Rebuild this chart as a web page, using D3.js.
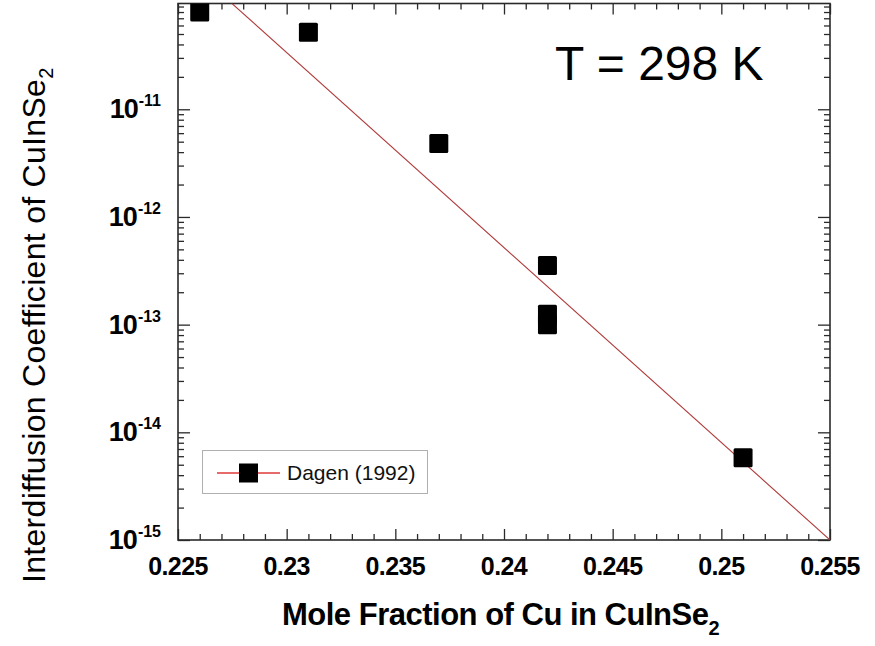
<!DOCTYPE html>
<html>
<head>
<meta charset="utf-8">
<script src="https://cdn.jsdelivr.net/npm/d3@7/dist/d3.min.js"></script>
<style>
  html, body { margin: 0; padding: 0; background: #fff; }
  svg { display: block; }
  text { font-family: Arial, "Liberation Sans", Helvetica, sans-serif; }
</style>
</head>
<body>
<script>
// Interdiffusion coefficient vs. Cu mole fraction at 298 K (Dagen 1992)
const moleFraction = [0.226, 0.231, 0.237, 0.242, 0.242, 0.242, 0.251];
const diffCoeff    = [8.0e-11, 5.2e-11, 4.8e-12, 3.55e-13, 1.25e-13, 1.0e-13, 5.8e-15];

// Fitted trend line (log-linear), drawn across the full x range
const fitX = [0.225, 0.255];
const fitY = [2.7e-10, 1e-15];

// Axis ticks
const xMajor = [0.225, 0.23, 0.235, 0.24, 0.245, 0.25, 0.255];
const xMajorLabels = ["0.225", "0.23", "0.235", "0.24", "0.245", "0.25", "0.255"];
const yDecades = [1e-15, 1e-14, 1e-13, 1e-12, 1e-11];
const yDecadeExp = ["-15", "-14", "-13", "-12", "-11"];

const W = 875, H = 646;
const plot = { left: 178, right: 830, top: 3.5, bottom: 540 };

const svg = d3.select("body").append("svg")
  .attr("width", W).attr("height", H);

svg.append("rect").attr("width", W).attr("height", H).attr("fill", "#fff");

const x = d3.scaleLinear().domain([0.225, 0.255]).range([plot.left, plot.right]);
const y = d3.scaleLog().domain([1e-15, 9.6e-11]).range([plot.bottom, plot.top]);

// minor ticks
const xMinor = d3.range(0, 31).map(i => 0.225 + i * 0.001).filter((v, i) => i % 5 !== 0);
const yMinor = [];
yDecades.forEach(d => {
  for (let k = 2; k <= 9; k++) { const v = d * k; if (v <= y.domain()[1]) yMinor.push(v); }
});

const axisColor = "#2a2a2a";
function styleAxis(g) {
  g.select(".domain").remove();
  g.selectAll(".tick line").attr("stroke", axisColor).attr("stroke-width", 1.3);
}

// bottom
svg.append("g").attr("transform", `translate(0,${plot.bottom})`)
  .call(d3.axisBottom(x).tickValues(xMajor).tickSize(-11).tickFormat(""))
  .call(styleAxis);
svg.append("g").attr("transform", `translate(0,${plot.bottom})`)
  .call(d3.axisBottom(x).tickValues(xMinor).tickSize(-6).tickFormat(""))
  .call(styleAxis);
// top
svg.append("g").attr("transform", `translate(0,${plot.top})`)
  .call(d3.axisTop(x).tickValues(xMajor).tickSize(-11).tickFormat(""))
  .call(styleAxis);
svg.append("g").attr("transform", `translate(0,${plot.top})`)
  .call(d3.axisTop(x).tickValues(xMinor).tickSize(-6).tickFormat(""))
  .call(styleAxis);
// left
svg.append("g").attr("transform", `translate(${plot.left},0)`)
  .call(d3.axisLeft(y).tickValues(yDecades).tickSize(-12).tickFormat(""))
  .call(styleAxis);
svg.append("g").attr("transform", `translate(${plot.left},0)`)
  .call(d3.axisLeft(y).tickValues(yMinor).tickSize(-6).tickFormat(""))
  .call(styleAxis);
// right
svg.append("g").attr("transform", `translate(${plot.right},0)`)
  .call(d3.axisRight(y).tickValues(yDecades).tickSize(-12).tickFormat(""))
  .call(styleAxis);
svg.append("g").attr("transform", `translate(${plot.right},0)`)
  .call(d3.axisRight(y).tickValues(yMinor).tickSize(-6).tickFormat(""))
  .call(styleAxis);

// frame
svg.append("rect")
  .attr("x", plot.left).attr("y", plot.top)
  .attr("width", plot.right - plot.left).attr("height", plot.bottom - plot.top)
  .attr("fill", "none").attr("stroke", axisColor).attr("stroke-width", 1.6);

// x tick labels
svg.append("g").selectAll("text").data(xMajor).join("text")
  .attr("x", d => x(d)).attr("y", 575)
  .attr("text-anchor", "middle")
  .attr("font-size", 25).attr("font-weight", "bold")
  .attr("letter-spacing", -0.6)
  .text((d, i) => xMajorLabels[i]);

// y tick labels: 10 with superscript exponent
const yl = svg.append("g").selectAll("text").data(yDecades).join("text")
  .attr("x", 161).attr("y", d => y(d) + 9)
  .attr("text-anchor", "end")
  .attr("font-weight", "bold");
yl.append("tspan").attr("font-size", 27).attr("letter-spacing", -1).text("10");
yl.append("tspan").attr("font-size", 16).attr("dy", -12).attr("dx", 1)
  .text((d, i) => yDecadeExp[i]);

// clip for plot area
svg.append("clipPath").attr("id", "plotclip").append("rect")
  .attr("x", plot.left).attr("y", plot.top)
  .attr("width", plot.right - plot.left).attr("height", plot.bottom - plot.top);

// fit line
svg.append("path")
  .attr("clip-path", "url(#plotclip)")
  .datum(fitX.map((v, i) => [v, fitY[i]]))
  .attr("d", d3.line().x(d => x(d[0])).y(d => y(d[1])))
  .attr("fill", "none").attr("stroke", "#b03a3a").attr("stroke-width", 1.1);

// data squares
const sq = 19;
svg.append("g").attr("clip-path", "url(#plotclip)")
  .selectAll("rect").data(moleFraction.map((v, i) => [v, diffCoeff[i]])).join("rect")
  .attr("x", d => x(d[0]) - sq / 2).attr("y", d => y(d[1]) - sq / 2)
  .attr("width", sq).attr("height", sq).attr("rx", 1.5)
  .attr("fill", "#000");

// temperature annotation
svg.append("text").attr("x", 555).attr("y", 80)
  .attr("font-size", 48).attr("fill", "#000").text("T = 298 K");

// legend
const lg = svg.append("g");
lg.append("rect").attr("x", 202.5).attr("y", 450.5).attr("width", 225).attr("height", 43)
  .attr("fill", "#fff").attr("stroke", "#b0b0b0").attr("stroke-width", 1);
lg.append("line").attr("x1", 217).attr("x2", 280).attr("y1", 473).attr("y2", 473)
  .attr("stroke", "#e03a3a").attr("stroke-width", 1.3);
lg.append("rect").attr("x", 239).attr("y", 463.5).attr("width", 19).attr("height", 19)
  .attr("fill", "#000");
lg.append("text").attr("x", 287).attr("y", 480)
  .attr("font-size", 21).attr("fill", "#111").text("Dagen (1992)");

// x axis title
const xt = svg.append("text").attr("x", 282).attr("y", 625)
  .attr("font-size", 31).attr("font-weight", "bold").attr("letter-spacing", -0.5);
xt.append("tspan").text("Mole Fraction of Cu in CuInSe");
xt.append("tspan").attr("font-size", 20).attr("dy", 10).text("2");

// y axis title
const ytTitle = svg.append("text")
  .attr("transform", "translate(45,583) rotate(-90)")
  .attr("font-size", 32).attr("font-weight", "normal").attr("letter-spacing", 0.3);
ytTitle.append("tspan").text("Interdiffusion Coefficient of CuInSe");
ytTitle.append("tspan").attr("font-size", 20).attr("dy", 8).text("2");
</script>
</body>
</html>
